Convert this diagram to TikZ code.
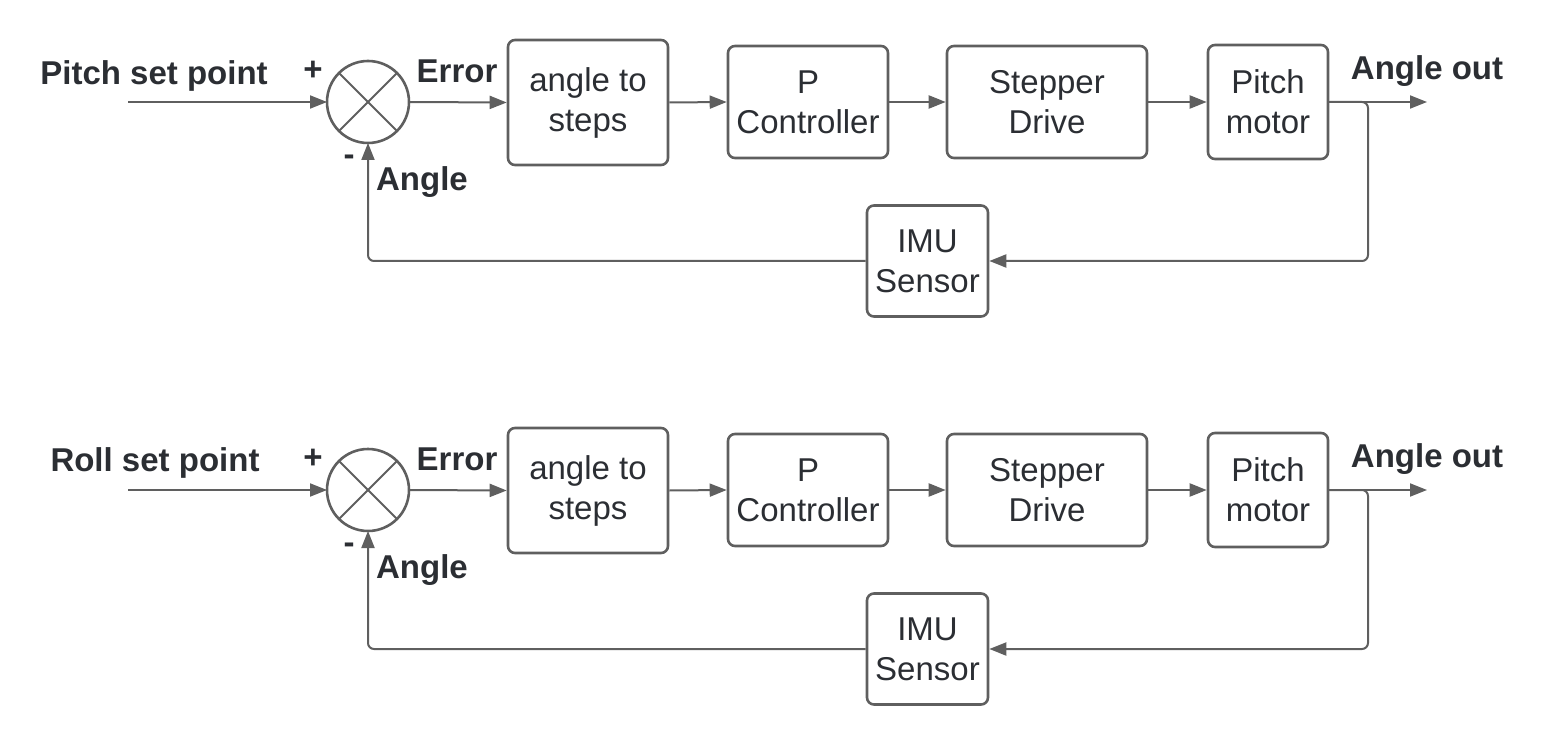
\documentclass[tikz,border=0pt]{standalone}
\usepackage{fontspec}
\setmainfont{Liberation Sans}
\usepackage{xcolor}
\usetikzlibrary{arrows.meta}
\definecolor{linegray}{HTML}{5F5F5F}
\definecolor{textgray}{HTML}{2B2E33}

\begin{document}
\begin{tikzpicture}[x=1pt,y=-1pt,
  block/.style={draw=linegray,line width=2.6pt,rounded corners=7pt,align=center,
    text=textgray,font=\fontsize{33}{40}\selectfont,inner sep=0pt},
  sumnode/.style={draw=linegray,line width=2.6pt,circle,minimum size=82pt,inner sep=0pt,outer sep=0pt},
  lbl/.style={text=textgray,font=\fontsize{33}{36}\selectfont\bfseries,inner sep=0pt},
  arr/.style={draw=linegray,line width=2pt,-{Triangle[length=17pt,width=13pt]}},
  wire/.style={draw=linegray,line width=2pt}]
\useasboundingbox (0,0) rectangle (1544,743);

% pitch loop
\node[sumnode] (sumA) at (368,102) {};
\draw[wire] (sumA.north east) -- (sumA.south west);
\draw[wire] (sumA.north west) -- (sumA.south east);
\node[block,minimum width=160pt,minimum height=125pt] (stepsA) at (588,102.5) {angle to\\steps};
\node[block,minimum width=160pt,minimum height=112pt] (ctrlA) at (808,102) {P\\Controller};
\node[block,minimum width=200pt,minimum height=112pt] (driveA) at (1047,102) {Stepper\\Drive};
\node[block,minimum width=120pt,minimum height=114pt] (motorA) at (1268,102) {Pitch\\motor};
\node[block,minimum width=121pt,minimum height=111pt] (imuA) at (927.5,261) {IMU\\Sensor};
\coordinate (inA) at (128,102);
\coordinate (outA) at (1427,102);
\coordinate (brA) at (1368,102);
\draw[arr] (inA) -- (sumA.west);
\draw[arr] (sumA.east) -- (stepsA.west);
\draw[arr] (stepsA.east) -- (ctrlA.west);
\draw[arr] (ctrlA.east) -- (driveA.west);
\draw[arr] (driveA.east) -- (motorA.west);
\draw[arr] (motorA.east) -- (outA);
\draw[arr,rounded corners=6pt] (motorA.east) -- (brA) |- (imuA.east);
\draw[arr,rounded corners=6pt] (imuA.west) -| (sumA.south);
\node[lbl] (setA) at (154,76) {Pitch set point};
\node[lbl] (plusA) at (313,71) {+};
\node[lbl] (minusA) at (349,160) {-};
\node[lbl] (errA) at (457,71) {Error};
\node[lbl] (angA) at (422,182) {Angle};
\node[lbl] (outlA) at (1427,71) {Angle out};

% roll loop
\node[sumnode] (sumB) at (368,490) {};
\draw[wire] (sumB.north east) -- (sumB.south west);
\draw[wire] (sumB.north west) -- (sumB.south east);
\node[block,minimum width=160pt,minimum height=125pt] (stepsB) at (588,490.5) {angle to\\steps};
\node[block,minimum width=160pt,minimum height=112pt] (ctrlB) at (808,490) {P\\Controller};
\node[block,minimum width=200pt,minimum height=112pt] (driveB) at (1047,490) {Stepper\\Drive};
\node[block,minimum width=120pt,minimum height=114pt] (motorB) at (1268,490) {Pitch\\motor};
\node[block,minimum width=121pt,minimum height=111pt] (imuB) at (927.5,649) {IMU\\Sensor};
\coordinate (inB) at (128,490);
\coordinate (outB) at (1427,490);
\coordinate (brB) at (1368,490);
\draw[arr] (inB) -- (sumB.west);
\draw[arr] (sumB.east) -- (stepsB.west);
\draw[arr] (stepsB.east) -- (ctrlB.west);
\draw[arr] (ctrlB.east) -- (driveB.west);
\draw[arr] (driveB.east) -- (motorB.west);
\draw[arr] (motorB.east) -- (outB);
\draw[arr,rounded corners=6pt] (motorB.east) -- (brB) |- (imuB.east);
\draw[arr,rounded corners=6pt] (imuB.west) -| (sumB.south);
\node[lbl] (setB) at (155,463) {Roll set point};
\node[lbl] (plusB) at (313,459) {+};
\node[lbl] (minusB) at (349,548) {-};
\node[lbl] (errB) at (457,459) {Error};
\node[lbl] (angB) at (422,570) {Angle};
\node[lbl] (outlB) at (1427,459) {Angle out};
\end{tikzpicture}
\end{document}
